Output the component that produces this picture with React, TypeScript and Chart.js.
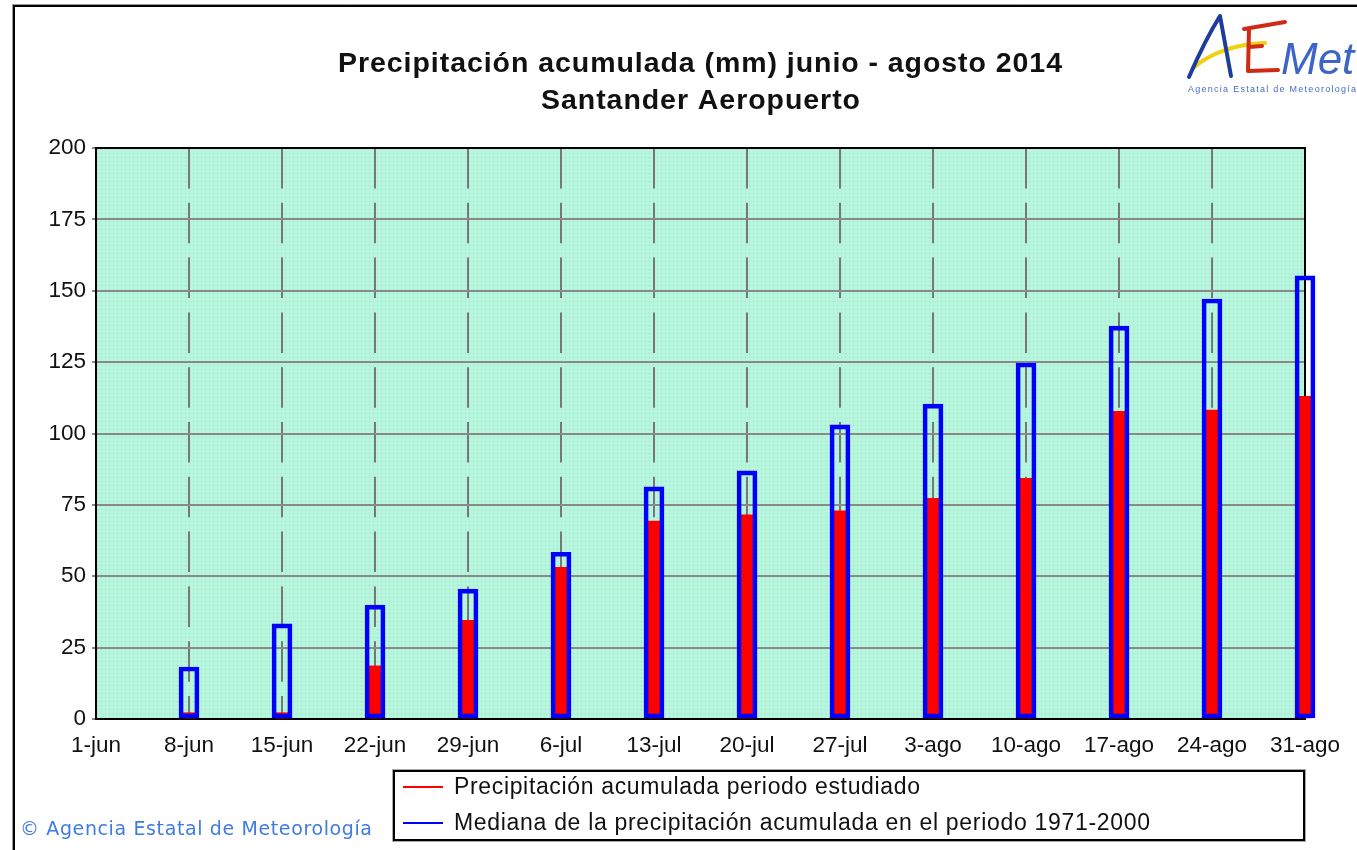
import { useEffect, useRef } from "react";
import { Chart, registerables } from "chart.js";

Chart.register(...registerables);

const categories = [
  "1-jun", "8-jun", "15-jun", "22-jun", "29-jun", "6-jul", "13-jul",
  "20-jul", "27-jul", "3-ago", "10-ago", "17-ago", "24-ago", "31-ago",
];
const precip2014: (number | null)[] = [
  null, 2.2, 2.2, 18.6, 34.6, 53.1, 69.3, 71.5, 72.9, 77.3, 84.3, 107.8, 108.2, 113.0,
];
const median19712000: (number | null)[] = [
  null, 18.2, 33.3, 39.9, 45.5, 58.4, 81.3, 86.9, 103.0, 110.3, 124.7, 137.6, 147.1, 155.2,
];
const yMin = 0;
const yMax = 200;
const yStep = 25;
const titleLines = [
  "Precipitación acumulada (mm) junio - agosto 2014",
  "Santander Aeropuerto",
];
const legendLabels = [
  "Precipitación acumulada periodo estudiado",
  "Mediana de la precipitación acumulada en el periodo 1971-2000",
];
const creditText = "© Agencia Estatal de Meteorología";
const logoSubText = "Agencia Estatal de Meteorología";

const FONT = "'Liberation Sans', Arial, sans-serif";

function drawFitted(
  ctx: CanvasRenderingContext2D,
  text: string,
  x: number,
  y: number,
  font: string,
  width: number
) {
  ctx.font = font;
  (ctx as any).letterSpacing = "0px";
  const w = ctx.measureText(text).width;
  const n = Math.max(text.length - 1, 1);
  const ls = (width - w) / n;
  (ctx as any).letterSpacing = ls + "px";
  ctx.textAlign = "left";
  ctx.fillText(text, x, y);
  (ctx as any).letterSpacing = "0px";
}

export default function App() {
  const ref = useRef<HTMLCanvasElement>(null);

  useEffect(() => {
    const canvas = ref.current!;
    const c2d = canvas.getContext("2d")!;
    const pc = document.createElement("canvas");
    pc.width = 4;
    pc.height = 4;
    const p = pc.getContext("2d")!;
    p.fillStyle = "#b6f6da";
    p.fillRect(0, 0, 4, 4);
    p.fillStyle = "#a6d6ea";
    p.fillRect(1, 1, 1, 1);
    const pattern = c2d.createPattern(pc, "repeat")!;

    const decor = {
      id: "decor",
      beforeDraw(chart: any) {
        const { ctx, chartArea: a } = chart;
        ctx.save();
        ctx.fillStyle = "#ffffff";
        ctx.fillRect(0, 0, chart.width, chart.height);
        ctx.fillStyle = pattern;
        ctx.fillRect(a.left, a.top, a.right - a.left, a.bottom - a.top);
        ctx.restore();
      },
      beforeDatasetsDraw(chart: any) {
        const { ctx, chartArea: a } = chart;
        ctx.save();
        ctx.strokeStyle = "#000";
        ctx.lineWidth = 2;
        ctx.strokeRect(a.left, a.top, a.right - a.left, a.bottom - a.top);
        ctx.restore();
      },
      afterDraw(chart: any) {
        const { ctx } = chart;
        ctx.save();
        // outer frame
        ctx.strokeStyle = "#999";
        ctx.lineWidth = 1;
        ctx.beginPath();
        ctx.moveTo(12.5, 850);
        ctx.lineTo(12.5, 4.5);
        ctx.lineTo(1357, 4.5);
        ctx.stroke();
        ctx.strokeStyle = "#000";
        ctx.lineWidth = 2;
        ctx.beginPath();
        ctx.moveTo(14, 850);
        ctx.lineTo(14, 6);
        ctx.lineTo(1357, 6);
        ctx.stroke();

        // title
        ctx.fillStyle = "#111";
        ctx.textBaseline = "alphabetic";
        drawFitted(ctx, titleLines[0], 338, 72, `bold 28.5px ${FONT}`, 724);
        drawFitted(ctx, titleLines[1], 541, 109, `bold 28.5px ${FONT}`, 319);

        // legend
        ctx.fillStyle = "#fff";
        ctx.fillRect(394, 771, 910, 69);
        ctx.strokeStyle = "#aaa";
        ctx.lineWidth = 1;
        ctx.strokeRect(392.5, 769.5, 913, 72);
        ctx.strokeStyle = "#000";
        ctx.lineWidth = 2;
        ctx.strokeRect(394, 771, 910, 69);
        const rows = [
          { y: 787, color: "#ff0000", text: legendLabels[0], w: 466 },
          { y: 823, color: "#0000ff", text: legendLabels[1], w: 696 },
        ];
        for (const r of rows) {
          ctx.strokeStyle = r.color;
          ctx.lineWidth = 2;
          ctx.beginPath();
          ctx.moveTo(403, r.y);
          ctx.lineTo(443, r.y);
          ctx.stroke();
          ctx.fillStyle = "#111";
          ctx.textBaseline = "middle";
          drawFitted(ctx, r.text, 454, r.y + 1, `23px ${FONT}`, r.w);
        }

        // credit
        ctx.fillStyle = "#3f7be0";
        ctx.textBaseline = "middle";
        drawFitted(ctx, creditText, 20, 830, `19px 'DejaVu Sans', sans-serif`, 352);

        // logo
        ctx.lineCap = "round";
        ctx.lineJoin = "round";
        ctx.strokeStyle = "#f2cf10";
        ctx.lineWidth = 4;
        ctx.beginPath();
        ctx.moveTo(1193, 68);
        ctx.quadraticCurveTo(1220, 45, 1265, 43);
        ctx.stroke();
        ctx.strokeStyle = "#1d3c9c";
        ctx.lineWidth = 4;
        ctx.beginPath();
        ctx.moveTo(1189, 77);
        ctx.quadraticCurveTo(1205, 40, 1220, 16);
        ctx.lineTo(1231, 76);
        ctx.stroke();
        ctx.strokeStyle = "#cf2a14";
        ctx.lineWidth = 4;
        ctx.beginPath();
        ctx.moveTo(1244, 29);
        ctx.lineTo(1285, 22);
        ctx.moveTo(1249, 29);
        ctx.lineTo(1248, 71);
        ctx.lineTo(1278, 70);
        ctx.moveTo(1249, 47);
        ctx.lineTo(1262, 46);
        ctx.stroke();
        ctx.fillStyle = "#3b66c8";
        ctx.textBaseline = "alphabetic";
        ctx.font = `italic 44px ${FONT}`;
        ctx.textAlign = "left";
        ctx.fillText("Met", 1281, 74);
        ctx.fillStyle = "#4a6cc6";
        drawFitted(ctx, logoSubText, 1188, 92, `9px ${FONT}`, 168);
        ctx.restore();
      },
    };

    const chart = new Chart(canvas, {
      type: "bar",
      data: {
        labels: categories,
        datasets: [
          {
            label: legendLabels[0],
            data: precip2014,
            backgroundColor: "#ff0000",
            borderWidth: 0,
            barThickness: 12,
            grouped: false,
            order: 1,
            clip: false as any,
          } as any,
          {
            label: legendLabels[1],
            data: median19712000,
            backgroundColor: "rgba(0,0,0,0)",
            borderColor: "#0000ff",
            borderWidth: 4,
            borderSkipped: false,
            barThickness: 20,
            grouped: false,
            order: 0,
            clip: false as any,
          } as any,
        ],
      },
      options: {
        responsive: false,
        animation: false,
        events: [],
        layout: { padding: 0 },
        plugins: {
          legend: { display: false },
          title: { display: false },
          tooltip: { enabled: false },
        },
        scales: {
          x: {
            offset: false,
            grid: {
              color: "#777777",
              lineWidth: 2,
              drawTicks: false,
              offset: false,
            },
            border: { display: false, dash: [40.5, 14.3] },
            ticks: {
              autoSkip: false,
              maxRotation: 0,
              padding: 13,
              color: "#111",
              font: { family: FONT, size: 22.5 },
            },
            afterFit(scale: any) {
              scale.height = 131;
              scale.paddingRight = 52;
              scale.paddingLeft = 0;
            },
          },
          y: {
            min: yMin,
            max: yMax,
            grid: {
              color: "#8a8a8a",
              lineWidth: 2,
              drawTicks: true,
              tickLength: 4,
            },
            border: { display: false },
            ticks: {
              stepSize: yStep,
              padding: 6,
              color: "#111",
              font: { family: FONT, size: 22.5 },
            },
            afterFit(scale: any) {
              scale.width = 96;
              scale.paddingTop = 148;
              scale.paddingBottom = 0;
            },
          },
        },
      },
      plugins: [decor],
    });

    return () => chart.destroy();
  }, []);

  return (
    <div style={{ position: "fixed", left: 0, top: 0, width: 1357, height: 850, background: "#fff" }}>
      <canvas ref={ref} width={1357} height={850} style={{ display: "block" }} />
    </div>
  );
}
